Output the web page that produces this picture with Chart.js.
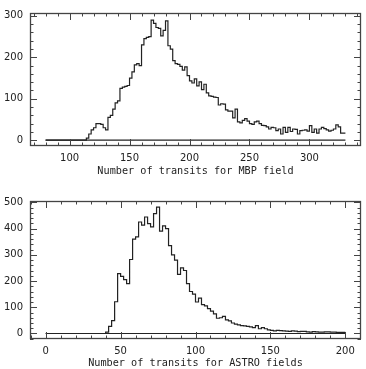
<!DOCTYPE html>
<html>
<head>
<meta charset="utf-8">
<script src="https://cdn.jsdelivr.net/npm/chart.js@4.4.1/dist/chart.umd.min.js"></script>
<style>
  body { margin: 0; background: #fff; }
  #wrap { position: relative; width: 366px; height: 369px; }
  canvas { position: absolute; left: 0; }
</style>
</head>
<body>
<div id="wrap">
  <canvas id="mbp" width="366" height="180" style="top:0"></canvas>
  <canvas id="astro" width="366" height="189" style="top:180px"></canvas>
</div>
<script>
// MBP field histogram, bins of 2 transits starting at 80
const mbpStart = 80;
const mbpBin = 2;
const mbpCounts = [
    0, 0, 0, 0, 0, 0, 0, 0, 0, 0, 0, 0, 0, 0, 0, 0, 0, 0,
    5, 15, 25, 30, 40, 40, 38, 30, 25, 55, 60, 75, 90, 95, 125, 128, 130, 132,
    150, 165, 182, 185, 180, 230, 245, 248, 250, 290, 282, 272, 270, 252, 265, 288,
    228, 220, 192, 185, 183, 178, 169, 177, 156, 143, 138, 148, 131, 141, 122, 135,
    114, 107, 106, 104, 103, 85, 88, 87, 73, 70, 70, 54, 75, 44, 42, 48, 52, 46,
    40, 38, 44, 46, 40, 36, 35, 32, 27, 31, 30, 23, 27, 15, 31, 19, 31, 21,
    27, 26, 15, 23, 24, 25, 22, 35, 19, 27, 17, 27, 31, 28, 25, 22, 24, 27,
    37, 32, 17
];
const mbpXTicks = [100, 150, 200, 250, 300];
const mbpYTicks = [0, 100, 200, 300];
const mbpTitle = "Number of transits for MBP field";

// ASTRO fields histogram, bins of 2 transits starting at 0
const astroStart = 0;
const astroBin = 2;
const astroCounts = [
    0, 0, 0, 0, 0, 0, 0, 0, 0, 0, 0, 0, 0, 0, 0, 0, 0, 0, 0, 0, 0,
    5, 27, 49, 121, 228, 218, 205, 190, 282, 360, 368, 425, 413, 444, 419, 406, 457, 482,
    390, 410, 400, 335, 300, 280, 225, 250, 240, 190, 160, 150, 120, 135, 110, 105,
    95, 85, 75, 58, 60, 65, 52, 48, 40, 36, 33, 30, 29, 27, 25, 22, 30, 18,
    22, 18, 14, 12, 10, 12, 11, 10, 9, 8, 10, 9, 7, 8, 8, 6, 5, 7,
    6, 5, 5, 6, 6, 5, 5, 4, 4
];
const astroXTicks = [0, 50, 100, 150, 200];
const astroYTicks = [0, 100, 200, 300, 400, 500];
const astroTitle = "Number of transits for ASTRO fields";

function histPoints(start, bin, counts) {
    const pts = counts.map((c, i) => ({ x: start + i * bin, y: c }));
    pts.push({ x: start + counts.length * bin, y: counts[counts.length - 1] });
    return pts;
}

// frame with inward ticks on all four sides
const frameTicks = {
    id: "frameTicks",
    afterDatasetsDraw(chart, args, opts) {
        const { ctx, chartArea: a, scales: { x, y } } = chart;
        ctx.save();
        ctx.strokeStyle = "#444";
        ctx.lineWidth = 1;
        ctx.beginPath();
        for (let v = Math.ceil(x.min / opts.xMinor) * opts.xMinor; v <= x.max; v += opts.xMinor) {
            const px = Math.round(x.getPixelForValue(v)) + 0.5;
            const len = v % opts.xMajor === 0 ? 7 : 3.5;
            ctx.moveTo(px, a.bottom); ctx.lineTo(px, a.bottom - len);
            ctx.moveTo(px, a.top); ctx.lineTo(px, a.top + len);
        }
        for (let v = Math.ceil(y.min / opts.yMinor) * opts.yMinor; v <= y.max; v += opts.yMinor) {
            const py = Math.round(y.getPixelForValue(v)) + 0.5;
            const len = v % opts.yMajor === 0 ? 7 : 3.5;
            ctx.moveTo(a.left, py); ctx.lineTo(a.left + len, py);
            ctx.moveTo(a.right, py); ctx.lineTo(a.right - len, py);
        }
        ctx.stroke();
        ctx.lineWidth = 1.3;
        ctx.strokeRect(Math.round(a.left) + 0.5, Math.round(a.top) + 0.5,
            Math.round(a.width) - 1, Math.round(a.height) - 1);
        ctx.restore();
    }
};

function makeChart(id, o) {
    const ctx = document.getElementById(id).getContext("2d");
    return new Chart(ctx, {
        type: "line",
        data: {
            datasets: [
                {
                    data: histPoints(o.start, o.bin, o.counts),
                    stepped: "after",
                    borderColor: "#222",
                    borderWidth: 1.2,
                    pointRadius: 0,
                    fill: false,
                },
                {
                    data: [{ x: o.start, y: 0 }, { x: o.start + o.counts.length * o.bin, y: 0 }],
                    borderColor: "#222",
                    borderWidth: 1.2,
                    pointRadius: 0,
                },
            ],
        },
        options: {
            responsive: false,
            animation: false,
            devicePixelRatio: 1,
            layout: { padding: { top: o.padTop, right: 5, left: 0, bottom: 0 } },
            plugins: {
                legend: { display: false },
                tooltip: { enabled: false },
                frameTicks: { xMinor: 10, xMajor: 50, yMinor: 20, yMajor: 100 },
            },
            scales: {
                x: {
                    type: "linear",
                    min: o.xMin,
                    max: o.xMax,
                    grid: { display: false, drawTicks: false },
                    border: { display: false },
                    afterBuildTicks: (s) => { s.ticks = o.xTicks.map((v) => ({ value: v })); },
                    afterFit: (s) => { s.height = o.xHeight; },
                    ticks: {
                        color: "#222",
                        padding: 6,
                        maxRotation: 0,
                        autoSkip: false,
                        font: { family: "DejaVu Sans", size: 10 },
                    },
                    title: {
                        display: true,
                        text: o.title,
                        color: "#222",
                        padding: { top: 0, bottom: o.titlePad },
                        font: { family: "DejaVu Sans Mono", size: 10.2 },
                    },
                },
                y: {
                    type: "linear",
                    min: o.yMin,
                    max: o.yMax,
                    grid: { display: false, drawTicks: false },
                    border: { display: false },
                    afterBuildTicks: (s) => { s.ticks = o.yTicks.map((v) => ({ value: v })); },
                    afterFit: (s) => { s.width = 30; },
                    ticks: {
                        color: "#222",
                        padding: 7,
                        autoSkip: false,
                        font: { family: "DejaVu Sans", size: 10 },
                    },
                },
            },
        },
        plugins: [frameTicks],
    });
}

makeChart("mbp", {
    start: mbpStart, bin: mbpBin, counts: mbpCounts,
    xMin: 67, xMax: 343, yMin: -14, yMax: 307,
    xTicks: mbpXTicks, yTicks: mbpYTicks, title: mbpTitle,
    padTop: 7, xHeight: 34, titlePad: 3,
});

makeChart("astro", {
    start: astroStart, bin: astroBin, counts: astroCounts,
    xMin: -10.5, xMax: 210.5, yMin: -21, yMax: 505,
    xTicks: astroXTicks, yTicks: astroYTicks, title: astroTitle,
    padTop: 21, xHeight: 30, titlePad: 0,
});
</script>
</body>
</html>
